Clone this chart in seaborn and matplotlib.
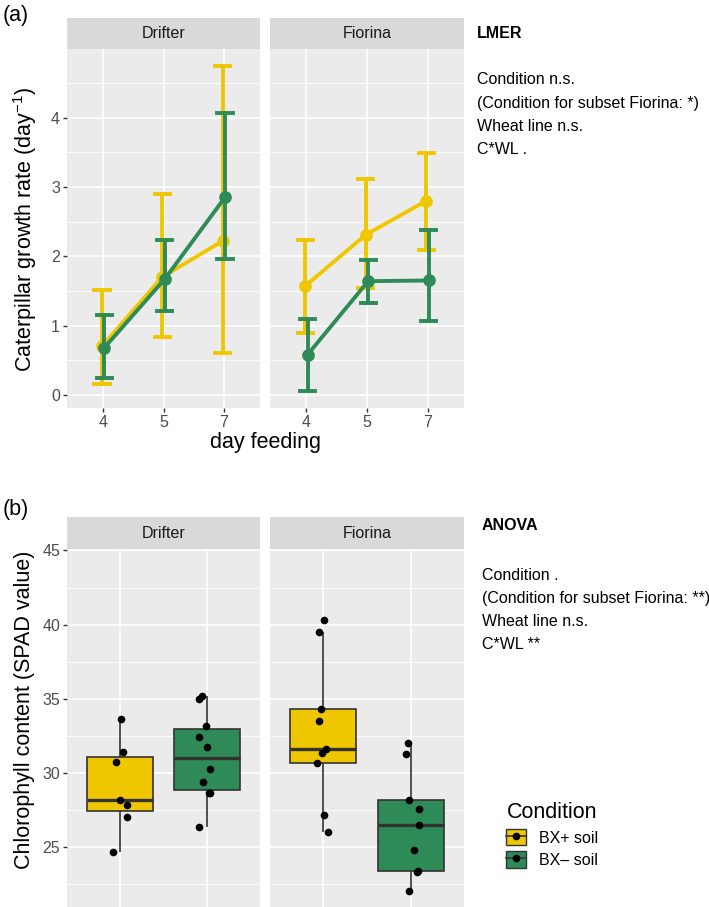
import numpy as np
import pandas as pd
import matplotlib
matplotlib.use("Agg")
import matplotlib.pyplot as plt
import seaborn as sns
from matplotlib.patches import Patch
from matplotlib.lines import Line2D
from matplotlib.legend_handler import HandlerTuple
from matplotlib.ticker import MultipleLocator

plt.rcParams["font.family"] = ["Liberation Sans", "DejaVu Sans"]
plt.rcParams["mathtext.fontset"] = "custom"
plt.rcParams["mathtext.rm"] = "Liberation Sans"
plt.rcParams["mathtext.it"] = "Liberation Sans:italic"
plt.rcParams["mathtext.bf"] = "Liberation Sans:bold"

wheat_lines = ["Drifter", "Fiorina"]
conditions = ["BX+ soil", "BX– soil"]
days = ["4", "5", "7"]
palette = {"BX+ soil": "#EFC700", "BX– soil": "#2E8B57"}

# (a) caterpillar growth rate: mean with lower / upper interval per day
drifter_plus_mean = [0.70, 1.70, 2.22]
drifter_plus_lo = [0.16, 0.83, 0.60]
drifter_plus_hi = [1.51, 2.90, 4.74]
drifter_minus_mean = [0.68, 1.67, 2.85]
drifter_minus_lo = [0.25, 1.21, 1.96]
drifter_minus_hi = [1.15, 2.23, 4.07]
fiorina_plus_mean = [1.57, 2.31, 2.80]
fiorina_plus_lo = [0.89, 1.54, 2.09]
fiorina_plus_hi = [2.23, 3.12, 3.49]
fiorina_minus_mean = [0.58, 1.64, 1.65]
fiorina_minus_lo = [0.06, 1.33, 1.06]
fiorina_minus_hi = [1.09, 1.94, 2.38]

# (b) chlorophyll content, single plants
spad_drifter_plus = [33.65, 31.40, 30.75, 28.16, 27.84, 27.03, 24.62]
spad_drifter_minus = [35.16, 34.98, 33.16, 32.41, 31.76, 30.25, 29.39, 28.65, 28.65, 26.31]
spad_fiorina_plus = [40.30, 39.51, 34.30, 33.47, 31.58, 31.35, 30.63, 27.12, 25.97]
spad_fiorina_minus = [31.98, 31.24, 28.13, 27.52, 26.47, 24.78, 23.38, 23.29, 21.98]

lmer_text = ["Condition n.s.", "(Condition for subset Fiorina: *)", "Wheat line n.s.", "C*WL ."]
anova_text = ["Condition .", "(Condition for subset Fiorina: **)", "Wheat line n.s.", "C*WL **"]

growth = {
    ("Drifter", "BX+ soil"): (drifter_plus_lo, drifter_plus_mean, drifter_plus_hi),
    ("Drifter", "BX– soil"): (drifter_minus_lo, drifter_minus_mean, drifter_minus_hi),
    ("Fiorina", "BX+ soil"): (fiorina_plus_lo, fiorina_plus_mean, fiorina_plus_hi),
    ("Fiorina", "BX– soil"): (fiorina_minus_lo, fiorina_minus_mean, fiorina_minus_hi),
}
rows = []
for (line, cond), parts in growth.items():
    for part in parts:
        for d, v in zip(days, part):
            rows.append({"line": line, "Condition": cond, "day": d, "rate": v})
df_growth = pd.DataFrame(rows)

spad = {
    ("Drifter", "BX+ soil"): spad_drifter_plus,
    ("Drifter", "BX– soil"): spad_drifter_minus,
    ("Fiorina", "BX+ soil"): spad_fiorina_plus,
    ("Fiorina", "BX– soil"): spad_fiorina_minus,
}
rows = []
for (line, cond), vals in spad.items():
    for v in vals:
        rows.append({"line": line, "Condition": cond, "spad": v})
df_spad = pd.DataFrame(rows)

W, H = 709, 907
fig = plt.figure(figsize=(W / 100, H / 100), dpi=100)


def px_axes(x0, y0, x1, y1, **kw):
    return fig.add_axes([x0 / W, 1 - y1 / H, (x1 - x0) / W, (y1 - y0) / H], **kw)


def strip(x0, y0, x1, y1, label):
    s = px_axes(x0, y0, x1, y1, facecolor="#D9D9D9")
    s.set_xticks([])
    s.set_yticks([])
    for sp in s.spines.values():
        sp.set_visible(False)
    s.text(0.5, 0.5, label, ha="center", va="center", fontsize=11.5, color="#1A1A1A",
           transform=s.transAxes)


def style(ax, minor, left):
    ax.set_facecolor("#EBEBEB")
    for sp in ax.spines.values():
        sp.set_visible(False)
    ax.set_axisbelow(True)
    ax.yaxis.set_minor_locator(MultipleLocator(minor))
    ax.grid(which="major", color="white", lw=1.2)
    ax.grid(which="minor", axis="y", color="white", lw=0.6)
    ax.tick_params(which="minor", length=0)
    ax.tick_params(which="major", length=3, width=1, color="#333333",
                   labelsize=11.5, labelcolor="#4D4D4D", pad=2)
    if not left:
        ax.tick_params(axis="y", left=False, labelleft=False)
    ax.set_xlabel("")
    ax.set_ylabel("")


panels_x = [(67, 260), (270, 464)]

# ---- (a) ----
for (x0, x1), line in zip(panels_x, wheat_lines):
    ax = px_axes(x0, 49, x1, 408)
    sns.pointplot(data=df_growth[df_growth["line"] == line], x="day", y="rate",
                  hue="Condition", order=days, hue_order=conditions, palette=palette,
                  estimator="median", errorbar=("pi", 100), capsize=0.25,
                  dodge=0.04, markersize=7, linewidth=2.8,
                  err_kws={"linewidth": 2.8}, legend=False, ax=ax)
    ax.set_xlim(-0.6, 2.6)
    ax.set_ylim(-0.19, 4.99)
    ax.yaxis.set_major_locator(MultipleLocator(1))
    style(ax, 0.5, line == "Drifter")
    strip(x0, 18, x1, 49, line)

fig.text(25 / W, 1 - 229 / H, "Caterpillar growth rate (day$^{-1}$)", rotation=90,
         ha="center", va="center", fontsize=15.5)
fig.text(265.5 / W, 1 - 442 / H, "day feeding", ha="center", va="center", fontsize=15.5)

# ---- (b) ----
np.random.seed(3)
for (x0, x1), line in zip(panels_x, wheat_lines):
    ax = px_axes(x0, 549, x1, 907)
    sub = df_spad[df_spad["line"] == line]
    sns.boxplot(data=sub, x="Condition", y="spad", hue="Condition", order=conditions,
                hue_order=conditions, palette=palette, saturation=1, width=0.75,
                dodge=False, showfliers=False, showcaps=False, linecolor="#333333",
                linewidth=1.2, medianprops={"linewidth": 2.4}, legend=False, ax=ax)
    sns.stripplot(data=sub, x="Condition", y="spad", order=conditions, color="black",
                  size=5.5, jitter=0.1, ax=ax)
    ax.set_xlim(-0.6, 1.6)
    ax.set_ylim(20.93, 45.1)
    ax.yaxis.set_major_locator(MultipleLocator(5))
    style(ax, 2.5, line == "Drifter")
    ax.tick_params(axis="x", bottom=False, labelbottom=False)
    strip(x0, 517, x1, 549, line)

fig.text(25 / W, 1 - 710 / H, "Chlorophyll content (SPAD value)", rotation=90,
         ha="center", va="center", fontsize=15.5)

# ---- annotations ----
fig.text(3 / W, 1 - 15 / H, "(a)", ha="left", va="center", fontsize=15.5)
fig.text(3 / W, 1 - 510 / H, "(b)", ha="left", va="center", fontsize=15.5)

fig.text(477 / W, 1 - 33 / H, "LMER", ha="left", va="center", fontsize=11.5,
         fontweight="bold")
for i, t in enumerate(lmer_text):
    fig.text(477 / W, 1 - (80 + 23.3 * i) / H, t, ha="left", va="center", fontsize=11.5)
fig.text(482 / W, 1 - 525 / H, "ANOVA", ha="left", va="center", fontsize=11.5,
         fontweight="bold")
for i, t in enumerate(anova_text):
    fig.text(482 / W, 1 - (575 + 23.3 * i) / H, t, ha="left", va="center", fontsize=11.5)

handles = []
for c in conditions:
    handles.append((Patch(facecolor=palette[c], edgecolor="#333333", lw=1),
                    Line2D([], [], color="#333333", lw=1.2),
                    Line2D([], [], marker="o", color="black", ls="none", markersize=4.5)))
leg = fig.legend(handles, conditions, title="Condition", loc="upper left",
                 bbox_to_anchor=(492 / W, 1 - 788 / H), frameon=False, fontsize=11.5,
                 title_fontsize=15.5, handlelength=1.25, handleheight=1.2,
                 handletextpad=0.8, labelspacing=0.35, alignment="left",
                 handler_map={tuple: HandlerTuple(ndivide=1, pad=0)})

fig.savefig("out.png", dpi=100)
